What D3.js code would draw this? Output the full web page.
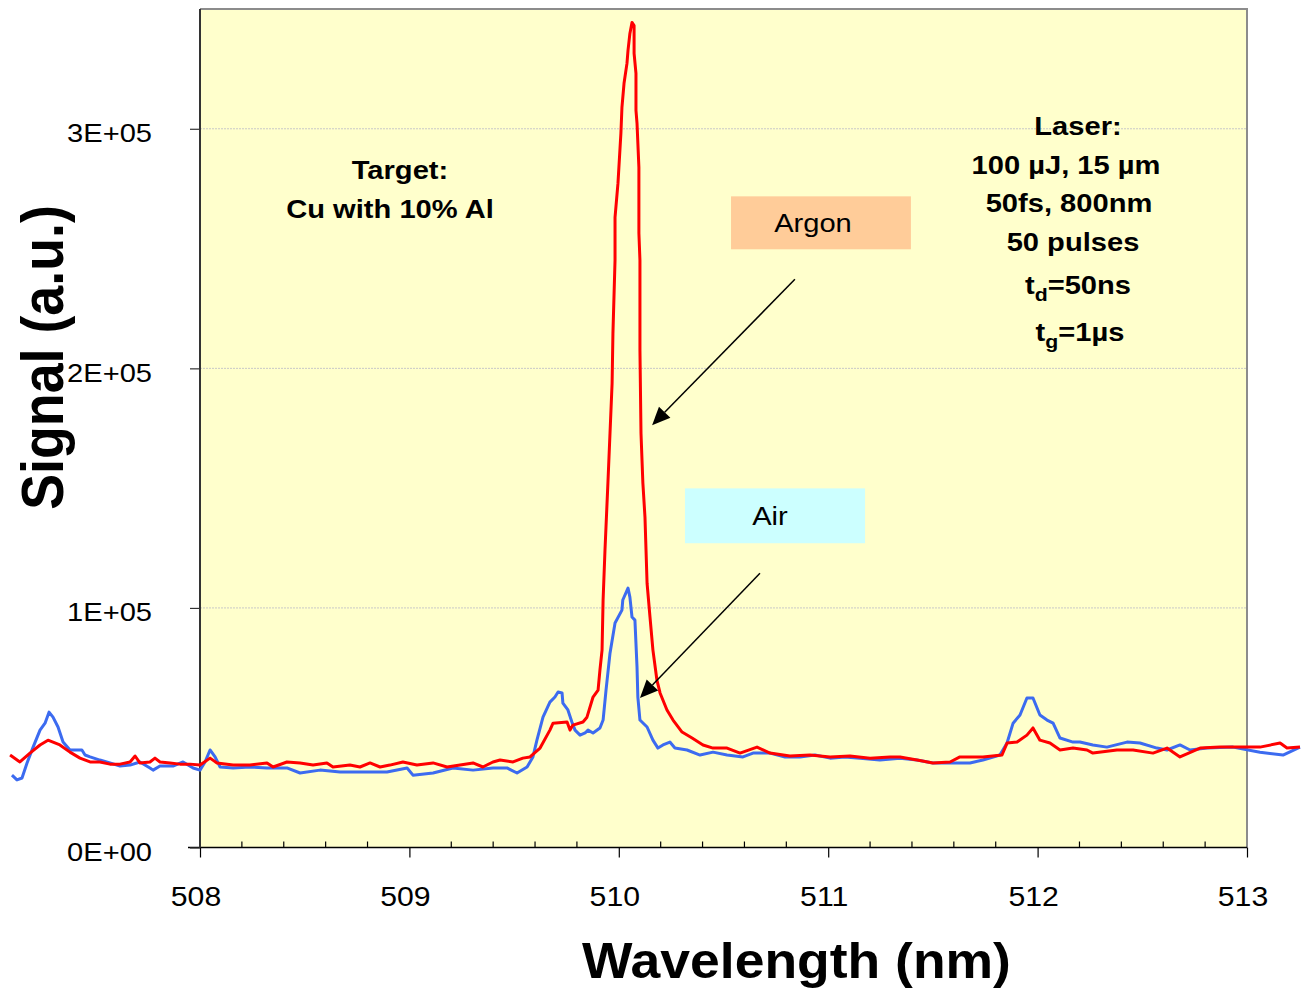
<!DOCTYPE html>
<html><head><meta charset="utf-8">
<script src="https://cdn.jsdelivr.net/npm/d3@7"></script>
<style>body{margin:0;background:#fff;} svg{display:block;font-family:"Liberation Sans",Arial,sans-serif;}</style>
</head><body>
<svg id="c" width="1301" height="990"></svg>
<script>
// ---- data (wavelength in nm, signal in a.u.) ----
const argonWl = [507.093,507.140,507.188,507.236,507.274,507.331,507.379,507.427,507.475,507.522,507.570,507.618,507.666,507.690,507.713,507.761,507.785,507.809,507.857,507.904,507.952,508.000,508.048,508.081,508.158,508.239,508.320,508.349,508.415,508.478,508.540,508.606,508.635,508.716,508.764,508.812,508.860,508.907,508.969,509.036,509.113,509.180,509.242,509.304,509.351,509.399,509.433,509.495,509.542,509.576,509.624,509.671,509.686,509.753,509.767,509.781,509.829,509.848,509.877,509.901,509.910,509.920,509.925,509.934,509.948,509.968,509.972,509.982,509.982,509.996,510.010,510.015,510.025,510.039,510.044,510.053,510.063,510.073,510.073,510.082,510.082,510.087,510.096,510.096,510.101,510.101,510.106,510.115,510.125,510.135,510.149,510.163,510.182,510.197,510.230,510.259,510.302,510.350,510.402,510.450,510.517,510.579,510.660,510.722,510.817,510.913,511.009,511.104,511.200,511.295,511.343,511.424,511.500,511.582,511.629,511.739,511.830,511.854,511.902,511.949,511.978,512.011,512.059,512.107,512.169,512.236,512.264,512.379,512.456,512.551,512.618,512.680,512.776,512.871,513.000,513.062,513.158,513.191,513.253];
const argonSig = [38600,35700,39400,42800,44800,42800,39800,37300,35700,35700,34800,34800,35700,38200,35300,35700,37300,35700,35300,34800,34800,34400,37300,35300,34400,34400,35300,33600,35700,35300,34400,35300,33600,34400,33600,35300,33600,34400,35700,34400,35300,33600,34400,35300,33600,35700,36500,35700,37300,37800,41500,49000,51900,52400,49000,51100,52400,54400,62800,65700,74100,82400,103300,124100,152100,193800,214600,245100,263000,277200,298100,308900,319000,327300,332700,339800,344400,343100,331500,323100,307700,302300,283900,256400,245100,207600,172900,152100,137900,110300,96200,82400,69900,64500,57400,53200,48200,45700,42800,41500,41500,39400,41900,39400,38200,38600,37800,38200,37300,37800,37800,36500,35300,35700,37800,37800,38600,43600,44000,46900,49900,44800,43600,40700,41500,40700,39400,40700,40700,39400,41500,37800,41500,41900,41900,41900,43600,41500,41900];
const airWl = [507.102,507.126,507.150,507.174,507.203,507.236,507.260,507.279,507.298,507.322,507.346,507.379,507.413,507.436,507.451,507.475,507.522,507.570,507.618,507.666,507.713,507.761,507.776,507.809,507.871,507.919,507.967,508.000,508.024,508.048,508.072,508.096,508.158,508.239,508.320,508.415,508.478,508.573,508.669,508.826,508.893,508.989,509.017,509.113,509.208,509.304,509.399,509.466,509.514,509.562,509.590,509.609,509.638,509.671,509.695,509.710,509.729,509.733,509.757,509.776,509.791,509.815,509.839,509.853,509.877,509.910,509.925,509.939,509.958,509.982,510.015,510.019,510.044,510.053,510.063,510.077,510.087,510.091,510.101,510.135,510.163,510.187,510.211,510.244,510.268,510.326,510.388,510.450,510.517,510.593,510.641,510.722,510.794,510.865,510.937,511.009,511.080,511.152,511.247,511.343,511.424,511.500,511.596,511.677,511.739,511.820,511.854,511.883,511.916,511.949,511.978,512.011,512.045,512.074,512.107,512.169,512.202,512.264,512.331,512.427,512.489,512.570,512.618,512.680,512.728,512.809,512.933,513.062,513.172,513.253];
const airSig = [30200,28200,29000,35300,41900,49000,51900,56500,54400,50300,44000,40700,40700,40700,38600,37800,36500,35300,34000,34400,35700,33200,32300,34000,34000,35700,33200,32300,35700,40700,37800,33600,33200,33600,33200,33200,31100,32300,31500,31500,31500,33200,30200,31100,33200,32300,33200,33200,31100,33600,37800,44800,54400,60700,62800,64900,64500,60300,57400,52400,49000,46900,47800,49000,47800,49900,53200,65700,81100,93700,99100,103300,108300,104500,96200,94900,75300,62800,53200,50300,44800,41500,42800,44000,41500,40700,38600,39800,38600,37800,39400,39400,37800,37800,38600,37300,37800,37300,36500,37300,36500,35300,35300,35300,36500,38600,43600,51900,55300,62400,62400,55300,53200,51900,45700,44000,44000,42800,41900,44000,43600,41500,40700,42800,40700,41500,41900,39800,38600,41900];
const xTickValues = [508,509,510,511,512,513];
const yTickValues = [0,100000,200000,300000];
const yTickLabels = ["0E+00","1E+05","2E+05","3E+05"];
const xTitle = "Wavelength (nm)";
const yTitle = "Signal (a.u.)";
const targetLines = ["Target:","Cu with 10% Al"];
const laserLines = [
  [{t:"Laser:"}],
  [{t:"100 µJ, 15 µm"}],
  [{t:"50fs, 800nm"}],
  [{t:"50 pulses"}],
  [{t:"t"},{t:"d",sub:true},{t:"=50ns"}],
  [{t:"t"},{t:"g",sub:true},{t:"=1µs"}]
];
const seriesNames = ["Argon","Air"];

// ---- layout ----
const W = 1301, H = 990;
const L = 200, R = 1247, T = 9, B = 847.5;
const SX = 1.12; // horizontal stretch of text in the original
const svg = d3.select("#c");
const x = d3.scaleLinear().domain([508,513]).range([L,R]);
const y = d3.scaleLinear().domain([0,350000]).range([B,T]);

function stretch(sel, sx){
  sel.each(function(){
    const t = d3.select(this);
    const X = +t.attr("x") || 0;
    t.attr("transform", `translate(${X*(1-sx)},0) scale(${sx},1)`);
  });
}

// plot area
svg.append("rect").attr("x",L).attr("y",T).attr("width",R-L).attr("height",B-T).attr("fill","#FFFFCC");
// gridlines
svg.append("g").selectAll("line").data(yTickValues.filter(v=>v>0)).join("line")
  .attr("x1",L).attr("x2",R).attr("y1",d=>y(d)).attr("y2",d=>y(d))
  .attr("stroke","#c8c8c8").attr("stroke-width",1).attr("stroke-dasharray","2,1");
// top/right border
svg.append("path").attr("d",`M${L},${T}H${R}V${B}`).attr("fill","none").attr("stroke","#8c8c8c").attr("stroke-width",2);

// x axis major
const xAxis = d3.axisBottom(x).tickValues(xTickValues).tickSize(10).tickPadding(29).tickFormat(d3.format("d"));
const gx = svg.append("g").attr("transform",`translate(0,${B})`).call(xAxis);
gx.select(".domain").attr("stroke","#000").attr("stroke-width",1.5).attr("d",`M${L-12},0H${R}`);
gx.selectAll(".tick line").attr("stroke","#000").attr("stroke-width",1.2);
gx.selectAll("text").attr("font-size",27).attr("fill","#000").attr("x",-4.5).attr("font-family","Liberation Sans, Arial, sans-serif");
stretch(gx.selectAll("text"), SX);
// x minor ticks
const minor = d3.range(508,513.001,0.2).filter(v=>Math.abs(v-Math.round(v))>0.01);
svg.append("g").selectAll("line").data(minor).join("line")
  .attr("x1",d=>x(d)).attr("x2",d=>x(d)).attr("y1",B).attr("y2",B-6)
  .attr("stroke","#000").attr("stroke-width",1.2);

// y axis
const yAxis = d3.axisLeft(y).tickValues(yTickValues).tickSize(10).tickPadding(38).tickFormat((d,i)=>yTickLabels[i]);
const gy = svg.append("g").attr("transform",`translate(${L},0)`).call(yAxis);
gy.select(".domain").attr("stroke","#333").attr("stroke-width",2).attr("d",`M0,${T}V${B}`);
gy.selectAll(".tick line").attr("stroke","#333").attr("stroke-width",1.2);
gy.selectAll("text").attr("font-size",26).attr("fill","#000").attr("dy","0.5em").attr("font-family","Liberation Sans, Arial, sans-serif");
stretch(gy.selectAll("text"), SX);

// lines
const line = d3.line().x(d=>x(d[0])).y(d=>y(d[1]));
const air = airWl.map((w,i)=>[w,airSig[i]]);
const argon = argonWl.map((w,i)=>[w,argonSig[i]]);
svg.append("path").datum(air).attr("d",line).attr("fill","none").attr("stroke","#3C6BF0").attr("stroke-width",3).attr("stroke-linejoin","round");
svg.append("path").datum(argon).attr("d",line).attr("fill","none").attr("stroke","#FF0000").attr("stroke-width",3).attr("stroke-linejoin","round");

// titles
const xt = svg.append("text").attr("x",796.5).attr("y",978).attr("text-anchor","middle").attr("font-size",50).attr("font-weight","bold").text(xTitle);
stretch(xt, 1.07);
svg.append("text").attr("transform","translate(63,357.5) rotate(-90) scale(1.034,1.14)").attr("text-anchor","middle").attr("font-size",52).attr("font-weight","bold").text(yTitle);

// target annotation
const tgtX = [400,390], tgtY = [179,218];
const tg = svg.append("g").selectAll("text").data(targetLines).join("text")
  .attr("x",(d,i)=>tgtX[i]).attr("y",(d,i)=>tgtY[i]).attr("text-anchor","middle")
  .attr("font-size",26).attr("font-weight","bold").text(d=>d);
stretch(tg, SX);

// laser annotation
const lasX = [1078,1066,1069,1073,1078,1080];
const lasY = [135,174,212,251,294,341];
laserLines.forEach((segs,i)=>{
  const t = svg.append("text").attr("x",lasX[i]).attr("y",lasY[i]).attr("text-anchor","middle").attr("font-size",26).attr("font-weight","bold");
  segs.forEach(s=>{
    const ts = t.append("tspan").text(s.t);
    if(s.sub) ts.attr("font-size",19).attr("dy",7);
    else if(t.selectAll("tspan").size()>1) ts.attr("dy",-7);
  });
  stretch(t, SX);
});

// label boxes
const boxes = [
  {name:seriesNames[0], x0:510.536, x1:511.395, y0:271800, y1:249700, fill:"#FFCC99", dx:-8},
  {name:seriesNames[1], x0:510.316, x1:511.176, y0:149900, y1:127000, fill:"#CCFFFF", dx:-5}
];
boxes.forEach(b=>{
  svg.append("rect").attr("x",x(b.x0)).attr("y",y(b.y0)).attr("width",x(b.x1)-x(b.x0)).attr("height",y(b.y1)-y(b.y0)).attr("fill",b.fill);
  const t = svg.append("text").attr("x",(x(b.x0)+x(b.x1))/2+b.dx).attr("y",(y(b.y0)+y(b.y1))/2+9).attr("text-anchor","middle").attr("font-size",26).text(b.name);
  stretch(t, SX);
});

// arrows
const arrows = [
  {from:[510.841,237200], to:[510.159,176300]},
  {from:[510.674,114500], to:[510.101,62400]}
];
arrows.forEach(a=>{
  const x1=x(a.from[0]), y1=y(a.from[1]), x2=x(a.to[0]), y2=y(a.to[1]);
  const ang=Math.atan2(y2-y1,x2-x1), hl=18, hw=8;
  const bx=x2-hl*Math.cos(ang), by=y2-hl*Math.sin(ang);
  svg.append("line").attr("x1",x1).attr("y1",y1).attr("x2",bx).attr("y2",by).attr("stroke","#000").attr("stroke-width",1.5);
  const px=-Math.sin(ang), py=Math.cos(ang);
  svg.append("path").attr("d",`M${x2},${y2}L${bx+hw*px},${by+hw*py}L${bx-hw*px},${by-hw*py}Z`).attr("fill","#000");
});
</script>
</body></html>
